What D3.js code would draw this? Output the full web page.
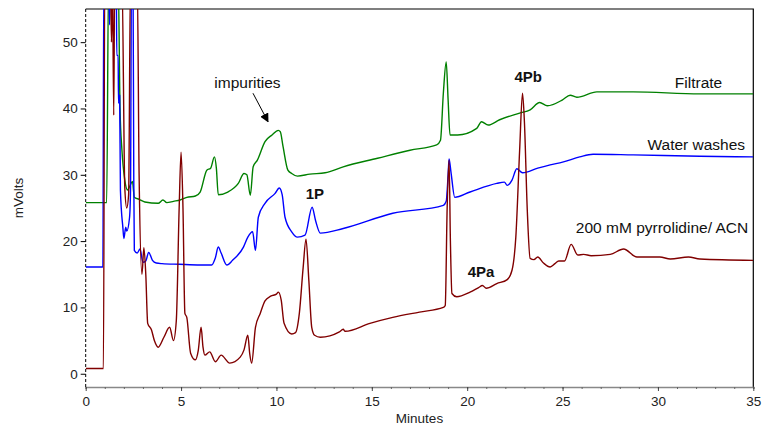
<!DOCTYPE html>
<html>
<head>
<meta charset="utf-8">
<script src="https://cdn.jsdelivr.net/npm/d3@7"></script>
<style>
  body { margin: 0; background: #fff; }
  text { font-family: "Liberation Sans", Arial, sans-serif; }
</style>
</head>
<body>
<div id="chart"></div>
<script>
const width = 763;
const height = 427;
const margin = { top: 9, right: 9.7, bottom: 40, left: 85.7 };

// traces: [minutes, mVolts]
const filtrate = [
  [0, 25.8], [1.1, 25.8], [1.2, 60], [1.7, 60], [1.8, 40], [1.9, 33.7], [2.05, 29.2],
  [2.2, 27.7], [2.3, 28.2], [2.45, 29], [2.55, 26.6], [2.8, 26.3], [3.1, 25.9], [3.8, 25.7],
  [4.05, 26.2], [4.25, 25.8], [4.6, 26.0], [4.95, 26.2], [5.3, 26.6], [5.75, 26.8], [6.0, 27.4],
  [6.35, 30.7], [6.55, 31.0], [6.75, 32.7], [6.85, 31], [6.95, 27], [7.45, 27.4], [8.0, 28.7],
  [8.3, 30.2], [8.45, 30], [8.63, 26.9], [8.78, 31.2], [9.0, 32.2], [9.4, 35.0], [9.77, 36.0],
  [10.1, 36.7], [10.2, 36.5], [10.35, 34.2], [10.6, 30.7], [10.8, 30.2], [11.1, 29.8],
  [11.75, 30.1], [12.55, 30.3], [13.5, 31.2], [15.3, 32.5], [17.0, 33.7], [18.4, 34.5],
  [18.6, 35.2], [18.75, 42.3], [18.9, 47.0], [19.0, 41.3], [19.1, 36.0], [19.5, 36.0],
  [20.5, 37.0], [20.75, 38.0], [21.1, 37.5], [21.7, 38.3], [22.75, 39.3], [23.3, 39.8],
  [23.8, 40.9], [24.2, 40.4], [25.0, 41.3], [25.4, 42.0], [25.75, 41.7], [26.8, 42.5],
  [28.7, 42.5], [32.2, 42.2], [35, 42.2]
];

const waterWashes = [
  [0, 16.1], [0.9, 16.1], [0.95, 60], [1.2, 60], [1.25, 52.6], [1.3, 60], [1.6, 60],
  [1.63, 48], [1.7, 48], [1.72, 40.8], [1.78, 42], [1.82, 27.7], [1.95, 22], [2.0, 20.4],
  [2.1, 22.1], [2.15, 21.5], [2.3, 23.6], [2.35, 27.7], [2.4, 60], [2.48, 60], [2.52, 29.5],
  [2.55, 18.6], [2.7, 18.2], [2.85, 18.8], [3.0, 16.8], [3.15, 17], [3.3, 18.3], [3.5, 17.1],
  [3.7, 16.7], [4.0, 16.6], [4.9, 16.5], [6.0, 16.4], [6.6, 16.4], [6.8, 17.5], [6.95, 19.1],
  [7.1, 18.2], [7.4, 16.4], [7.7, 17.1], [8.27, 19.1], [8.5, 20.6], [8.75, 21.4], [8.9, 18.6],
  [9.05, 23.6], [9.4, 25.7], [9.93, 27.2], [10.15, 28.0], [10.3, 27], [10.45, 23.6],
  [10.8, 21.4], [11.1, 20.6], [11.5, 20.9], [11.87, 25.1], [12.05, 23.1], [12.3, 21.2],
  [13.5, 21.9], [16.1, 24.2], [18.75, 25.4], [18.9, 26], [19.0, 30], [19.05, 32.4],
  [19.15, 30.4], [19.35, 26.6], [20.15, 27.4], [21.55, 28.7], [21.95, 28.9], [22.1, 28.4],
  [22.35, 29.2], [22.6, 30.9], [22.9, 30.3], [23.7, 31.0], [24.35, 31.5], [25.0, 31.9],
  [25.9, 32.7], [26.6, 33.1], [28.7, 33.0], [32.2, 32.8], [35, 32.7]
];

const pyrrolidine = [
  [0, 0.8], [0.93, 0.8], [1.0, 60], [1.3, 60], [1.35, 50], [1.4, 60], [1.47, 39], [1.52, 60],
  [1.9, 60], [2.05, 28], [2.15, 25], [2.25, 27], [2.35, 60], [2.7, 60], [2.8, 30], [2.95, 15],
  [3.05, 19], [3.15, 15], [3.25, 7.6], [3.45, 6.6], [3.6, 5], [3.8, 4.0], [4.1, 5.5], [4.4, 7.0],
  [4.6, 5.0], [4.75, 8], [4.9, 25], [5.0, 33.4], [5.1, 25], [5.2, 9.1], [5.3, 8.5], [5.5, 3.1],
  [5.75, 2.1], [5.9, 3.5], [6.05, 7.0], [6.15, 4], [6.25, 2.8], [6.5, 3.3], [6.8, 1.8],
  [7.1, 2.8], [7.55, 1.6], [8.1, 2.5], [8.3, 3.6], [8.5, 5.8], [8.6, 3], [8.7, 1.6], [8.9, 7.0],
  [9.15, 9.1], [9.4, 11.0], [9.7, 11.7], [10.0, 12.0], [10.1, 12.3], [10.25, 11.1], [10.4, 7.6],
  [10.8, 6.0], [11.0, 6.2], [11.2, 9.1], [11.4, 16], [11.55, 20.3], [11.7, 14], [11.85, 7],
  [12.0, 5.8], [12.3, 5.5], [13.3, 6.3], [13.5, 6.7], [13.6, 6.4], [14.9, 7.6], [16.1, 8.5],
  [17.5, 9.3], [18.75, 10.0], [18.85, 10.3], [18.95, 25], [19.05, 32.2], [19.12, 20],
  [19.2, 12.1], [19.45, 11.6], [20.15, 12.3], [20.6, 13.0], [20.8, 13.3], [21.0, 12.9],
  [21.55, 13.6], [22.1, 14.2], [22.35, 15.6], [22.55, 20.6], [22.75, 33.7], [22.9, 42.3],
  [23.0, 38], [23.15, 24.7], [23.3, 17.4], [23.5, 17.2], [23.7, 17.6], [24.0, 16.7],
  [24.35, 16.1], [24.6, 16.6], [24.8, 17.0], [25.1, 17.0], [25.45, 19.5], [25.8, 17.9],
  [26.1, 18.0], [26.5, 17.8], [27.5, 18.0], [28.2, 18.8], [28.9, 17.6], [30.1, 17.6],
  [30.65, 17.3], [31.6, 17.6], [32.2, 17.3], [35, 17.1]
];

const xTicks = [0, 5, 10, 15, 20, 25, 30, 35];
const yTicks = [0, 10, 20, 30, 40, 50];

// labels: [text, minutes, mVolts, anchor, bold]
const labels = [
  ["impurities", 8.48, 43.1, "middle", false],
  ["4Pb", 23.2, 44.0, "middle", true],
  ["Filtrate", 33.37, 43.1, "end", false],
  ["Water washes", 34.57, 33.7, "end", false],
  ["200 mM pyrrolidine/ ACN", 34.73, 21.2, "end", false],
  ["1P", 12.02, 26.3, "middle", true],
  ["4Pa", 20.73, 14.6, "middle", true]
];
const arrowFrom = [8.77, 42.3];
const arrowTo = [9.56, 38.0];

const svg = d3.select("#chart").append("svg")
  .attr("width", width)
  .attr("height", height);

const xScale = d3.scaleLinear()
  .domain([0, 35])
  .range([margin.left, width - margin.right]);
const yScale = d3.scaleLinear()
  .domain([-2, 55])
  .range([height - margin.bottom, margin.top]);

svg.append("defs").append("clipPath").attr("id", "plot-clip")
  .append("rect")
  .attr("x", margin.left)
  .attr("y", margin.top)
  .attr("width", width - margin.left - margin.right)
  .attr("height", height - margin.top - margin.bottom);

// frame: top and right
svg.append("path")
  .attr("d", `M${margin.left},${margin.top}H${width - margin.right}V${height - margin.bottom}`)
  .attr("fill", "none")
  .attr("stroke", "#000")
  .attr("stroke-width", 1.2);

// x axis
const xAxis = svg.append("g")
  .attr("transform", `translate(0, ${height - margin.bottom})`)
  .call(d3.axisBottom(xScale).tickValues(d3.range(0, 36, 1)).tickSize(2).tickFormat(""));
xAxis.select(".domain").attr("stroke", "#888").attr("stroke-width", 1.5);
xAxis.selectAll(".tick line").attr("stroke", "#666");

const xMajor = svg.append("g")
  .attr("transform", `translate(0, ${height - margin.bottom})`)
  .call(d3.axisBottom(xScale).tickValues(xTicks).tickSize(4).tickPadding(5));
xMajor.select(".domain").remove();
xMajor.selectAll(".tick line").attr("stroke", "#444");
xMajor.selectAll("text").style("font-size", "13.5px").attr("fill", "#222");

// y axis
const yAxis = svg.append("g")
  .attr("transform", `translate(${margin.left}, 0)`)
  .call(d3.axisLeft(yScale).tickValues(yTicks).tickSize(5).tickPadding(3));
yAxis.select(".domain")
  .attr("d", `M0,${margin.top}V${height - margin.bottom}`)
  .attr("stroke", "#000")
  .attr("stroke-dasharray", "3,2");
yAxis.selectAll("text").style("font-size", "13.5px").attr("fill", "#222");

svg.append("text")
  .attr("x", xScale(17.5))
  .attr("y", 423)
  .attr("text-anchor", "middle")
  .style("font-size", "13.5px")
  .attr("fill", "#222")
  .text("Minutes");

svg.append("text")
  .attr("transform", "rotate(-90)")
  .attr("x", -198)
  .attr("y", 23)
  .attr("text-anchor", "middle")
  .style("font-size", "13.5px")
  .attr("fill", "#222")
  .text("mVolts");

const line = d3.line()
  .x((d) => xScale(d[0]))
  .y((d) => yScale(d[1]))
  .curve(d3.curveMonotoneX);

const traceGroup = svg.append("g").attr("clip-path", "url(#plot-clip)");
const traces = [
  { data: filtrate, color: "#008000" },
  { data: waterWashes, color: "#0000ff" },
  { data: pyrrolidine, color: "#800000" }
];
traceGroup.selectAll("path")
  .data(traces)
  .join("path")
  .attr("d", (d) => line(d.data))
  .attr("fill", "none")
  .attr("stroke", (d) => d.color)
  .attr("stroke-width", 1.4)
  .attr("stroke-linejoin", "round");

svg.append("defs").append("marker")
  .attr("id", "arrow-head")
  .attr("viewBox", "0 0 10 10")
  .attr("refX", 9)
  .attr("refY", 5)
  .attr("markerWidth", 9)
  .attr("markerHeight", 9)
  .attr("markerUnits", "userSpaceOnUse")
  .attr("orient", "auto")
  .append("path")
  .attr("d", "M0,0L10,5L0,10Z")
  .attr("fill", "#000");

svg.append("line")
  .attr("x1", xScale(arrowFrom[0]))
  .attr("y1", yScale(arrowFrom[1]))
  .attr("x2", xScale(arrowTo[0]))
  .attr("y2", yScale(arrowTo[1]))
  .attr("stroke", "#000")
  .attr("stroke-width", 1)
  .attr("marker-end", "url(#arrow-head)");

svg.selectAll(".label")
  .data(labels)
  .join("text")
  .attr("class", "label")
  .attr("x", (d) => xScale(d[1]))
  .attr("y", (d) => yScale(d[2]))
  .attr("text-anchor", (d) => d[3])
  .style("font-size", (d) => (d[4] ? "15px" : "15.5px"))
  .style("font-weight", (d) => (d[4] ? "bold" : "normal"))
  .attr("fill", "#111")
  .text((d) => d[0]);
</script>
</body>
</html>
